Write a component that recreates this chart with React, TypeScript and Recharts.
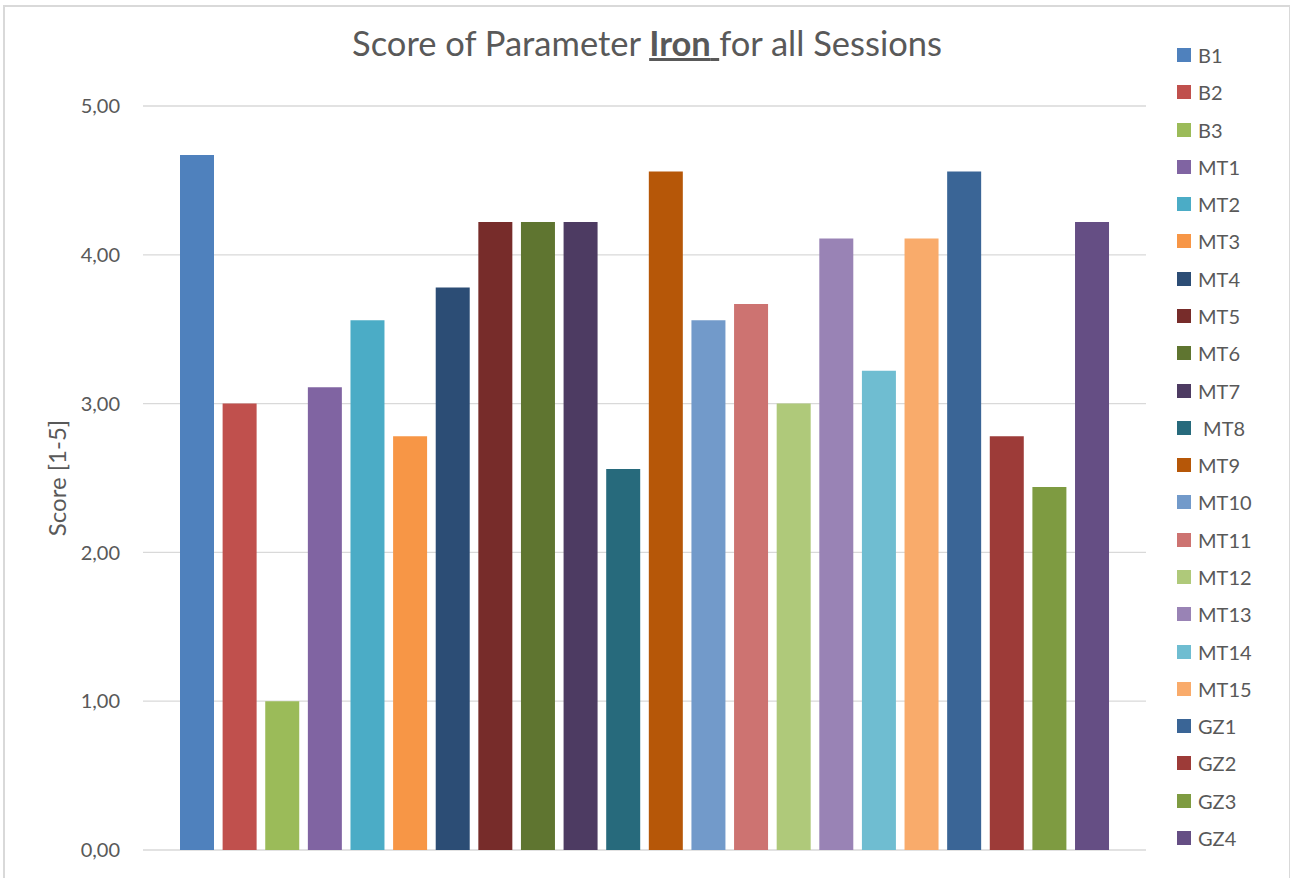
import { Bar, BarChart, CartesianGrid, Label, XAxis, YAxis } from 'recharts';

const sessions = [
  'B1', 'B2', 'B3', 'MT1', 'MT2', 'MT3', 'MT4', 'MT5', 'MT6', 'MT7', ' MT8',
  'MT9', 'MT10', 'MT11', 'MT12', 'MT13', 'MT14', 'MT15', 'GZ1', 'GZ2', 'GZ3', 'GZ4',
];

const scores = [
  4.67, 3.0, 1.0, 3.11, 3.56, 2.78, 3.78, 4.22, 4.22, 4.22, 2.56,
  4.56, 3.56, 3.67, 3.0, 4.11, 3.22, 4.11, 4.56, 2.78, 2.44, 4.22,
];

const colors = [
  '#4f81bd', '#c0504d', '#9bbb59', '#8064a2', '#4bacc6', '#f79646',
  '#2c4d75', '#772c2a', '#5f7530', '#4d3b62', '#276a7c', '#b65708',
  '#729aca', '#cd7371', '#afc97a', '#9983b5', '#6fbdd1', '#f9ab6b',
  '#3a6596', '#9d3b38', '#7e9b41', '#654e84',
];

const yTicks = [0, 1, 2, 3, 4, 5];

const parameter = 'Iron';
const yLabel = 'Score [1-5]';

// one category, one series per session
const row: Record<string, string | number> = { name: parameter };
scores.forEach((v, i) => {
  row[`s${i}`] = v;
});
const data = [row];

const FONT = 'Lato, "Noto Sans", sans-serif';
const TEXT = '#595959';

function SessionLegend() {
  return (
    <div style={{ position: 'absolute', left: 1177, top: 55 - 18.6, fontFamily: FONT }}>
      {sessions.map((s, i) => (
        <div
          key={i}
          style={{ height: 37.29, display: 'flex', alignItems: 'center' }}
        >
          <span style={{ width: 14, height: 14, background: colors[i], display: 'inline-block' }} />
          <span style={{ marginLeft: 7, fontSize: 20, color: TEXT, whiteSpace: 'pre' }}>{s}</span>
        </div>
      ))}
    </div>
  );
}

function AxisTitle(props: any) {
  const vb = props.viewBox || {};
  const cx = 56;
  const cy = (vb.y ?? 106) + (vb.height ?? 744) / 2;
  return (
    <text
      x={cx}
      y={cy}
      transform={`rotate(-90, ${cx}, ${cy})`}
      textAnchor="middle"
      dominantBaseline="central"
      fill={TEXT}
      style={{ fontSize: 24, fontFamily: FONT }}
    >
      {yLabel}
    </text>
  );
}

export default function App() {
  return (
    <div style={{ position: 'relative', width: 1290, height: 878, overflow: 'hidden', background: '#fff' }}>
      <style>{'body{margin:0}'}</style>
      <div
        style={{
          position: 'absolute',
          left: 3,
          top: 5,
          width: 1284,
          height: 900,
          border: '2px solid #d9d9d9',
          borderBottom: 'none',
          pointerEvents: 'none',
        }}
      />
      <div
        style={{
          position: 'absolute',
          left: 0,
          width: 1294,
          top: 22,
          textAlign: 'center',
          fontFamily: FONT,
          fontSize: 34.5,
          color: TEXT,
          whiteSpace: 'pre',
        }}
      >
        Score of Parameter{' '}
        <span style={{ fontWeight: 700, textDecoration: 'underline', textDecorationThickness: 3 }}>
          {parameter}{' '}
        </span>
        for all Sessions
      </div>
      <BarChart
        width={1290}
        height={878}
        data={data}
        margin={{ top: 106, right: 144, bottom: 28, left: 0 }}
        barGap={8.62}
        barSize={34}
        style={{ position: 'absolute', left: 0, top: 0 }}
      >
        <CartesianGrid vertical={false} stroke="#d9d9d9" strokeWidth={1.3} />
        <XAxis dataKey="name" hide />
        <YAxis
          width={143}
          domain={[0, 5]}
          ticks={yTicks}
          tickLine={false}
          axisLine={false}
          tickSize={0}
          tickMargin={23}
          tickFormatter={(v: number) => v.toFixed(2).replace('.', ',')}
          tick={{ fill: TEXT, fontSize: 20, fontFamily: FONT }}
        >
          <Label content={<AxisTitle />} />
        </YAxis>
        {sessions.map((s, i) => (
          <Bar
            key={i}
            dataKey={`s${i}`}
            name={s}
            fill={colors[i]}
            isAnimationActive={false}
          />
        ))}
      </BarChart>
      <SessionLegend />
    </div>
  );
}
